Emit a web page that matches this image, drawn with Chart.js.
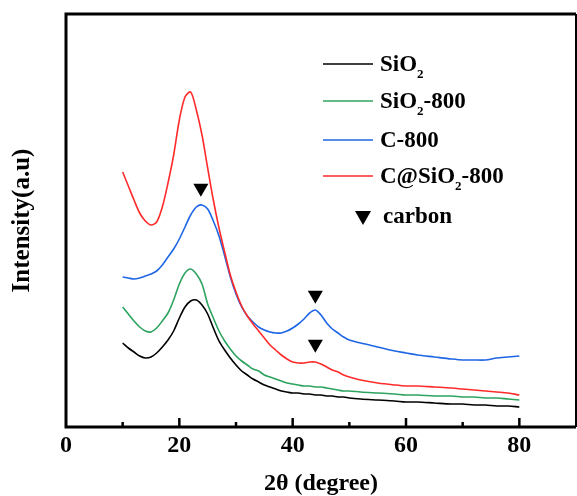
<!DOCTYPE html>
<html>
<head>
<meta charset="utf-8">
<script src="https://cdn.jsdelivr.net/npm/chart.js@4"></script>
<style>
  body { margin: 0; background: #fff; }
  canvas { display: block; }
</style>
</head>
<body>
<canvas id="xrd" width="577" height="496"></canvas>
<script>
// 2theta values (degree)
var twoTheta = [10,11,12,13,14,15,16,17,18,19,20,21,22,23,24,25,26,27,28,29,30,31,32,33,34,35,36,37,38,39,40,41,42,43,44,45,46,47,48,49,50,52,55,58,60,62,65,68,70,72,74,76,78,80];

// intensities (a.u.)
var sio2 = [84,79,75,71,69,70,74,80,87,96,109,120,126,127,122,113,99,86,77,69,62,56,52,48,45,42,40,38,36,35,34,34,33,33,32,32,31,31,30,30,29,28,27,26,25,25,24,23,23,22,22,21,21,20];
var sio2_800 = [120,113,106,100,96,95,99,106,114,127,143,154,158,153,143,123,109,96,86,78,71,66,62,58,56,52,50,48,46,44,43,42,41,41,40,40,39,38,37,36,36,35,34,33,32,32,31,31,30,30,29,29,28,27];
var c_800 = [150,149,148,149,151,153,156,162,170,178,188,200,212,220,222,218,206,191,171,150,133,120,111,105,100,97,95,94,94,96,99,103,108,114,117,112,104,98,94,90,87,84,80,76,74,72,70,68,67,67,67,69,70,71];
var c_sio2_800 = [255,241,227,214,206,202,205,220,244,272,307,330,335,317,292,259,227,199,175,152,135,121,111,103,96,89,82,77,72,68,65,64,64,65,65,63,60,57,55,52,50,47,44,42,41,41,40,39,38,37,36,35,34,32];

// carbon peak markers
var carbonX = [23.8, 44, 44];
var carbonY = [239, 132, 83];

var xTicks = [0, 20, 40, 60, 80];

var serif = '"Liberation Serif", "Times New Roman", serif';

function pts(ys) {
  return twoTheta.map(function (x, i) { return { x: x, y: ys[i] }; });
}

var legendRows = [
  { color: '#000000', parts: [['SiO', 0], ['2', 1]] },
  { color: '#2ca35f', parts: [['SiO', 0], ['2', 1], ['-800', 0]] },
  { color: '#1f66e5', parts: [['C-800', 0]] },
  { color: '#ff2b2b', parts: [['C@SiO', 0], ['2', 1], ['-800', 0]] }
];

function drawRich(ctx, parts, x, y) {
  parts.forEach(function (p) {
    if (p[1]) {
      ctx.font = 'bold 13px ' + serif;
      ctx.fillText(p[0], x, y + 10);
    } else {
      ctx.font = 'bold 23px ' + serif;
      ctx.fillText(p[0], x, y);
    }
    x += ctx.measureText(p[0]).width;
  });
}

var framePlugin = {
  id: 'frame',
  afterDraw: function (chart) {
    var ctx = chart.ctx;
    var a = chart.chartArea;
    var xs = chart.scales.x;
    ctx.save();
    ctx.strokeStyle = '#000';
    ctx.lineCap = 'butt';
    // box
    ctx.lineWidth = 3;
    ctx.beginPath();
    ctx.moveTo(a.left, a.bottom + 1.5);
    ctx.lineTo(a.left, a.top);
    ctx.lineTo(a.right, a.top);
    ctx.moveTo(a.left - 1.5, a.bottom);
    ctx.lineTo(a.right, a.bottom);
    ctx.stroke();
    ctx.lineWidth = 2;
    ctx.beginPath();
    ctx.moveTo(a.right, a.top);
    ctx.lineTo(a.right, a.bottom);
    ctx.stroke();
    // inward ticks
    ctx.lineWidth = 2.5;
    for (var v = 10; v < 90; v += 10) {
      var px = xs.getPixelForValue(v);
      var len = v % 20 === 0 ? 9 : 5;
      ctx.beginPath();
      ctx.moveTo(px, a.bottom);
      ctx.lineTo(px, a.bottom - len);
      ctx.stroke();
    }
    // legend
    ctx.fillStyle = '#000';
    ctx.textBaseline = 'middle';
    ctx.textAlign = 'left';
    var rowY = [64, 101, 140, 176];
    legendRows.forEach(function (r, i) {
      ctx.strokeStyle = r.color;
      ctx.lineWidth = 1.5;
      ctx.beginPath();
      ctx.moveTo(323, rowY[i]);
      ctx.lineTo(373, rowY[i]);
      ctx.stroke();
      drawRich(ctx, r.parts, 380, rowY[i] + 1);
    });
    // carbon key
    ctx.beginPath();
    ctx.moveTo(355, 211);
    ctx.lineTo(371, 211);
    ctx.lineTo(363, 225);
    ctx.closePath();
    ctx.fill();
    ctx.font = 'bold 23px ' + serif;
    ctx.fillText('carbon', 383, 217);
    ctx.restore();
  }
};

new Chart(document.getElementById('xrd'), {
  type: 'line',
  data: {
    datasets: [
      {
        label: 'carbon',
        data: carbonX.map(function (x, i) { return { x: x, y: carbonY[i] }; }),
        showLine: false,
        pointStyle: 'triangle',
        rotation: 180,
        pointRadius: 8.7,
        pointBackgroundColor: '#000',
        pointBorderColor: '#000',
        borderWidth: 0,
        order: 0
      },
      { label: 'C@SiO2-800', data: pts(c_sio2_800), borderColor: '#ff2b2b', order: 1 },
      { label: 'C-800', data: pts(c_800), borderColor: '#1f66e5', order: 2 },
      { label: 'SiO2-800', data: pts(sio2_800), borderColor: '#2ca35f', order: 3 },
      { label: 'SiO2', data: pts(sio2), borderColor: '#000000', order: 4 }
    ]
  },
  options: {
    responsive: false,
    animation: false,
    datasets: {
      line: { borderWidth: 1.6, pointRadius: 0, tension: 0.3, fill: false }
    },
    layout: { autoPadding: false, padding: { top: 14, right: 1, left: 0, bottom: 0 } },
    plugins: {
      legend: { display: false },
      tooltip: { enabled: false }
    },
    scales: {
      x: {
        type: 'linear',
        min: 0,
        max: 90,
        grid: { display: false, drawTicks: false },
        border: { display: false },
        afterBuildTicks: function (s) {
          s.ticks = xTicks.map(function (v) { return { value: v }; });
        },
        afterFit: function (s) {
          s.height = 69;
          s.paddingLeft = 0;
          s.paddingRight = 0;
        },
        ticks: {
          color: '#000',
          padding: 4,
          font: { family: serif, size: 24, weight: 'bold' }
        },
        title: {
          display: true,
          text: '2\u03b8 (degree)',
          color: '#000',
          padding: { top: 0, bottom: 0 },
          font: { family: serif, size: 24, weight: 'bold', lineHeight: 1 }
        }
      },
      y: {
        min: 0,
        max: 413,
        grid: { display: false },
        border: { display: false },
        ticks: { display: false },
        afterFit: function (s) { s.width = 66; },
        title: {
          display: true,
          text: 'Intensity(a.u)',
          color: '#000',
          padding: { top: 8, bottom: 0 },
          font: { family: serif, size: 25, weight: 'bold' }
        }
      }
    }
  },
  plugins: [framePlugin]
});
</script>
</body>
</html>
